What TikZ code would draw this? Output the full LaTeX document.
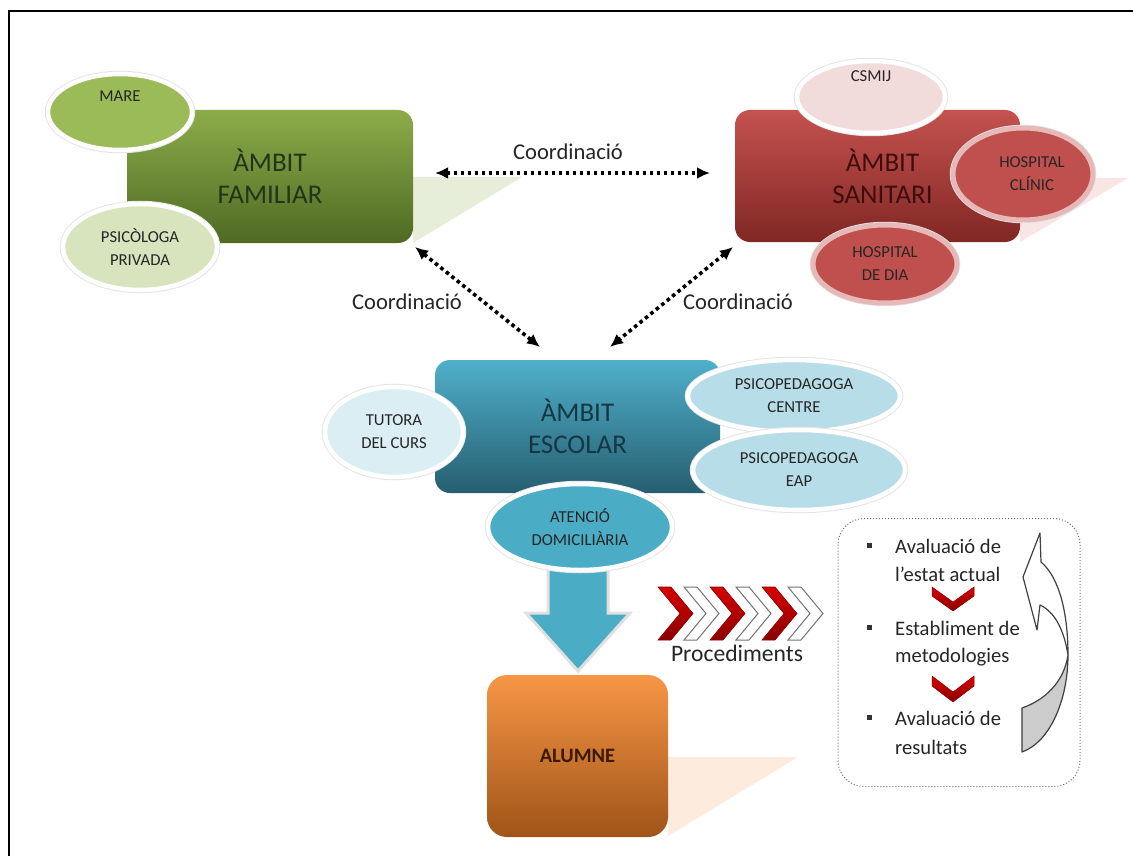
\documentclass[tikz,border=0pt]{standalone}
\usepackage{fontspec}
\setmainfont{Carlito}
\usetikzlibrary{shapes.geometric,arrows.meta,calc}
\definecolor{famA}{HTML}{8CAC4A}
\definecolor{famB}{HTML}{4E6A23}
\definecolor{famT}{HTML}{26331A}
\definecolor{famSh}{HTML}{E6EDD9}
\definecolor{mareC}{HTML}{9BBB59}
\definecolor{psiC}{HTML}{D7E4BD}
\definecolor{sanA}{HTML}{C5524F}
\definecolor{sanB}{HTML}{802724}
\definecolor{sanT}{HTML}{3E0E0E}
\definecolor{sanSh}{HTML}{F8E6E5}
\definecolor{csC}{HTML}{F2DCDB}
\definecolor{hosC}{HTML}{C0504D}
\definecolor{hosB}{HTML}{E6B9B8}
\definecolor{escA}{HTML}{4FB0CA}
\definecolor{escB}{HTML}{265E70}
\definecolor{escT}{HTML}{163644}
\definecolor{tutC}{HTML}{DBEEF3}
\definecolor{pscC}{HTML}{B7DDE8}
\definecolor{atC}{HTML}{4BACC6}
\definecolor{aluA}{HTML}{F79646}
\definecolor{aluB}{HTML}{A05418}
\definecolor{aluT}{HTML}{3A1A05}
\definecolor{aluSh}{HTML}{FDEBDD}
\definecolor{chA}{HTML}{D80000}
\definecolor{chB}{HTML}{8A0000}
\begin{document}
\begin{tikzpicture}[x=1pt,y=-1pt,
  bigbox/.style={rounded corners=15pt, align=center, inner sep=0pt,
    shading angle=45, font=\fontsize{27}{32}\selectfont},
  oval/.style={ellipse, inner sep=0pt, align=center, text=black!85,
    font=\fontsize{16.7}{23}\selectfont,
    preaction={draw=black!10, line width=6.5pt},
    draw=white, line width=4.5pt},
  hoval/.style={oval, draw=hosB, line width=5pt, text=black!85},
  coord/.style={line width=3.6pt, dash pattern=on 3.6pt off 3.4pt,
    {Latex[length=13pt,width=12pt]}-{Latex[length=13pt,width=12pt]}},
  lbl/.style={font=\fontsize{22.6}{24}\selectfont, text=black!85, inner sep=0pt},
  boxtxt/.style={font=\fontsize{20.6}{28}\selectfont, text=black!85, anchor=west, inner sep=0pt},
  bul/.style={fill=black!80},
  chred/.style={top color=chA, bottom color=chB, draw=chB, line width=0.6pt},
  chwhite/.style={fill=white, draw=black!55, line width=1pt},
  vred/.style={top color=chA, bottom color=chB, draw=chB, line width=0.5pt}
]
\useasboundingbox (0,0) rectangle (1133,856);
\fill[white] (0,0) rectangle (1133,856);
\draw[line width=2.4pt] (9,856) -- (9,11) -- (1133,11);

% shadows
\fill[famSh] (413,177) -- (522,177) -- (413,243) -- cycle;
\fill[sanSh] (1020,178) -- (1128,178) -- (1020,242) -- cycle;
\fill[aluSh] (668,757) -- (798,757) -- (668,836) -- cycle;

% main boxes
\node[bigbox, minimum width=286pt, minimum height=133pt, top color=famA, bottom color=famB, text=famT] (fam) at (270,176.5) {ÀMBIT\\FAMILIAR};
\node[bigbox, minimum width=285pt, minimum height=132pt, top color=sanA, bottom color=sanB, text=sanT] (san) at (877.5,176) {\hspace*{10pt}ÀMBIT\\\hspace*{10pt}SANITARI};
\node[bigbox, minimum width=285pt, minimum height=133pt, top color=escA, bottom color=escB, text=escT] (esc) at (577.5,426.5) {ÀMBIT\\ESCOLAR};

% family ovals
\node[oval, fill=mareC, minimum width=144pt, minimum height=76pt] (mare) at (120,112) {};
\node[font=\fontsize{16.7}{20}\selectfont, text=black!85] (mareT) at (120,96) {MARE};
\node[oval, fill=psiC, minimum width=154pt, minimum height=86pt] (psi) at (140,247) {PSICÒLOGA\\PRIVADA};

% health ovals
\node[oval, fill=csC, minimum width=148pt, minimum height=72pt] (csm) at (871,97) {};
\node[font=\fontsize{16.7}{20}\selectfont, text=black!85] (csmT) at (871,76) {CSMIJ};
\node[hoval, fill=hosC, minimum width=140pt, minimum height=92pt] (hcl) at (1023,174) {\hspace*{18pt}HOSPITAL\\\hspace*{18pt}CLÍNIC};
\node[hoval, fill=hosC, minimum width=144pt, minimum height=78pt] (hdi) at (885,264) {HOSPITAL\\DE DIA};

% down arrow
\draw[fill=atC, draw=white!80!black!60, line width=3pt, line join=miter]
  (548,560) -- (608,560) -- (608,613) -- (630,613) -- (578,671) -- (526,613) -- (548,613) -- cycle;

% school ovals
\node[oval, fill=tutC, minimum width=138pt, minimum height=90pt] (tut) at (394,432) {TUTORA\\DEL CURS};
\node[oval, fill=pscC, minimum width=212pt, minimum height=72pt] (pcen) at (794,396) {PSICOPEDAGOGA\\CENTRE};
\node[oval, fill=pscC, minimum width=212pt, minimum height=80pt] (peap) at (799,470) {PSICOPEDAGOGA\\EAP};
\node[oval, fill=atC, minimum width=184pt, minimum height=86pt] (aten) at (580,527) {ATENCIÓ\\DOMICILIÀRIA};

% student
\node[bigbox, rounded corners=20pt, minimum width=181pt, minimum height=162pt, top color=aluA, bottom color=aluB, text=aluT, font=\fontsize{20.5}{24}\selectfont\bfseries] (alu) at (577.5,756) {ALUMNE};

% coordination arrows
\coordinate (fr) at (435,173);
\coordinate (sl) at (710,173);
\coordinate (fb) at (415,247);
\coordinate (el) at (540,347);
\coordinate (sb) at (733,247);
\coordinate (er) at (610,347);
\draw[coord] (fr) -- (sl);
\draw[coord] (fb) -- (el);
\draw[coord] (sb) -- (er);
\node[lbl] (c1) at (568,152) {Coordinació};
\node[lbl] (c2) at (407,302) {Coordinació};
\node[lbl] (c3) at (738,302) {Coordinació};

% chevrons
\foreach \i in {0,1,2,3,4,5}{
  \pgfmathsetmacro{\xa}{658+26*\i}
  \pgfmathtruncatemacro{\odd}{mod(\i,2)}
  \ifnum\odd=0
    \path[chred] (\xa,587) -- ({\xa+13},587) -- ({\xa+35},613.5) -- ({\xa+13},640) -- (\xa,640) -- ({\xa+22},613.5) -- cycle;
  \else
    \path[chwhite] (\xa,587) -- ({\xa+13},587) -- ({\xa+35},613.5) -- ({\xa+13},640) -- (\xa,640) -- ({\xa+22},613.5) -- cycle;
  \fi
}
\node[font=\fontsize{23.6}{24}\selectfont, text=black!85, inner sep=0pt] (procT) at (737,653) {Procediments};

% procedure box
\node[draw=black!55, dotted, line width=1pt, rounded corners=26pt, minimum width=242pt, minimum height=268pt] (proc) at (959,652.5) {};
\fill[bul] (867,543) rectangle (872,548);
\fill[bul] (867,625) rectangle (872,630);
\fill[bul] (867,715) rectangle (872,720);
\node[boxtxt] (t1) at (895,546) {Avaluació de};
\node[boxtxt] (t2) at (895,574) {l’estat actual};
\node[boxtxt] (t3) at (895,628) {Establiment de};
\node[boxtxt] (t4) at (895,657) {metodologies};
\node[boxtxt] (t5) at (895,718) {Avaluació de};
\node[boxtxt] (t6) at (895,747) {resultats};
\path[vred] (932,587) -- (953,602) -- (974,587) -- (974,596) -- (953,611) -- (932,596) -- cycle;
\path[vred] (932,676) -- (953,692) -- (974,676) -- (974,686) -- (953,702) -- (932,686) -- cycle;

% curved return arrow
\draw[fill=white, draw=black!75, line width=1.2pt, line join=round]
  (1040,533) -- (1023,577) -- (1037,630) -- (1040,605)
  .. controls (1055,612) and (1064,630) .. (1068,655)
  .. controls (1068,615) and (1060,578) .. (1041,562) -- cycle;
\draw[fill=black!20, draw=black!75, line width=1.2pt, line join=round]
  (1068,655) .. controls (1068,700) and (1050,742) .. (1022,752)
  -- (1022,708) .. controls (1045,700) and (1064,682) .. (1068,655) -- cycle;
\end{tikzpicture}
\end{document}
